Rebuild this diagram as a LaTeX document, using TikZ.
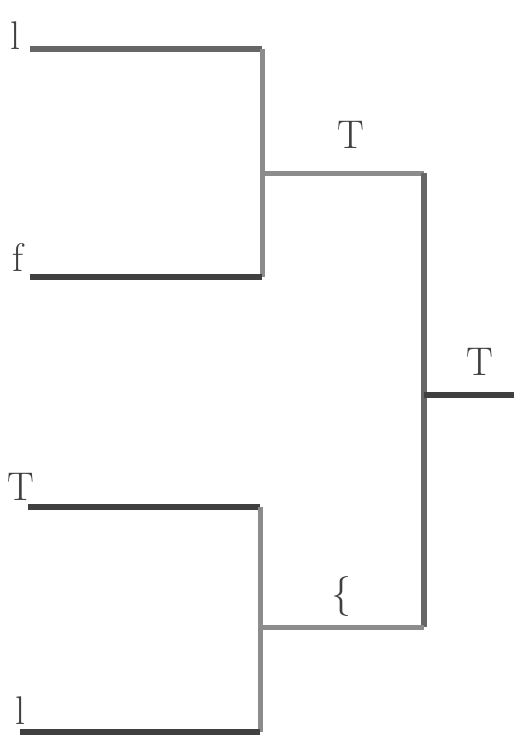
\documentclass[tikz,border=0pt]{standalone}
\begin{document}
\begin{tikzpicture}[x=1pt,y=-1pt,
  branch/.style={line width=5.5pt,draw=black!60},
  darkbranch/.style={line width=5.5pt,draw=black!75},
  lightbranch/.style={line width=5pt,draw=black!45},
  lbl/.style={font=\fontsize{40}{40}\selectfont,text=black!75,inner sep=0pt}]
\useasboundingbox (0,0) rectangle (514,736);
% leaf ends
\coordinate (a) at (30,49);
\coordinate (b) at (30,277);
\coordinate (c) at (28,507);
\coordinate (d) at (20,732);
% junctions
\coordinate (ab1) at (262,49);
\coordinate (ab2) at (262,277);
\coordinate (abm) at (262,173);
\coordinate (cd1) at (260,507);
\coordinate (cd2) at (260,732);
\coordinate (cdm) at (260,627);
\coordinate (r1) at (424,173);
\coordinate (r2) at (424,627);
\coordinate (rm) at (424,395);
\coordinate (root) at (514,395);
% lines
\draw[branch] (a) -- (ab1);
\draw[lightbranch] (ab1) -- (ab2);
\draw[darkbranch] (b) -- (ab2);
\draw[lightbranch] (abm) -- (r1);
\draw[branch] (r1) -- (r2);
\draw[darkbranch] (c) -- (cd1);
\draw[lightbranch] (cd1) -- (cd2);
\draw[darkbranch] (d) -- (cd2);
\draw[lightbranch] (cdm) -- (r2);
\draw[darkbranch] (rm) -- (root);
% labels
\node[lbl] (la) at (15,36) {l};
\node[lbl] (lb) at (18,257) {f};
\node[lbl] (lab) at (351,135) {T};
\node[lbl] (lroot) at (480,362) {T};
\node[lbl] (lc) at (21,487) {T};
\node[lbl] (lcd) at (341,596) {\{};
\node[lbl] (ld) at (20,711) {l};
\end{tikzpicture}
\end{document}
